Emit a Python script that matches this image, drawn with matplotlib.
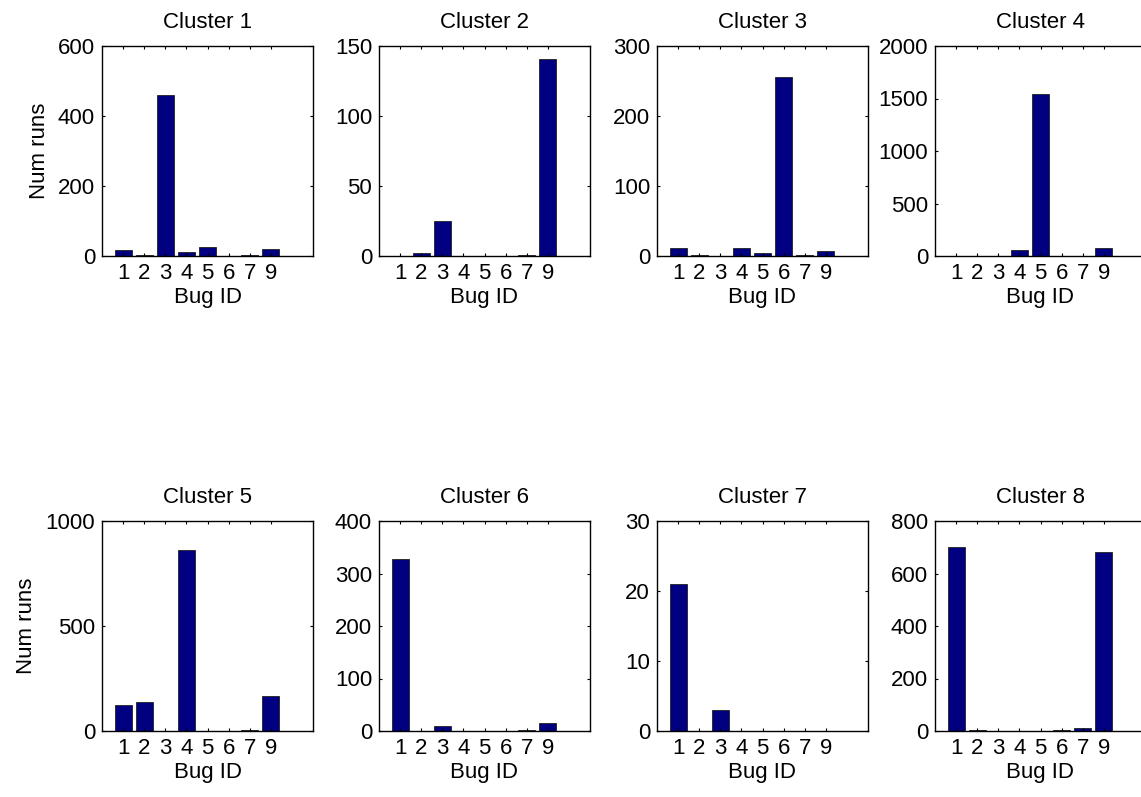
import matplotlib
matplotlib.use("Agg")
import matplotlib.pyplot as plt

plt.rcParams["font.family"] = ["Liberation Sans", "DejaVu Sans"]

bug_labels = ["1", "2", "3", "4", "5", "6", "7", "9"]
positions = [1, 2, 3, 4, 5, 6, 7, 8]

cluster_1 = [16, 3, 459, 12, 26, 1, 2, 21]
cluster_2 = [0, 2, 25, 0, 0, 0, 1, 141]
cluster_3 = [11, 1, 0, 11, 4, 256, 1, 7]
cluster_4 = [1, 0, 0, 60, 1547, 0, 0, 73]
cluster_5 = [122, 140, 1, 862, 1, 1, 5, 165]
cluster_6 = [327, 0, 9, 0, 0, 0, 1, 15]
cluster_7 = [21, 0, 3, 0, 0, 0, 0, 0]
cluster_8 = [702, 3, 1, 1, 1, 4, 13, 683]

clusters = [cluster_1, cluster_2, cluster_3, cluster_4,
            cluster_5, cluster_6, cluster_7, cluster_8]
y_limits = [600, 150, 300, 2000, 1000, 400, 30, 800]
y_steps = [200, 50, 100, 500, 500, 100, 10, 200]

W, H = 1141, 797
fig = plt.figure(figsize=(W / 100, H / 100), dpi=100)

col_lefts = [102, 379, 657, 935]
row_bottoms = [256, 731]  # pixel y of axes bottom, from top
box_w, box_h = 211, 210

for i, counts in enumerate(clusters):
    row, col = divmod(i, 4)
    ax = fig.add_axes([col_lefts[col] / W, (H - row_bottoms[row]) / H,
                       box_w / W, box_h / H])
    ax.bar(positions, counts, width=0.8, color="#000080",
           edgecolor="#202020", linewidth=0.6)
    ax.set_xlim(0, 10)
    ax.set_ylim(0, y_limits[i])
    ax.set_yticks(range(0, y_limits[i] + 1, y_steps[i]))
    ax.set_xticks(positions)
    ax.set_xticklabels(bug_labels)
    ax.tick_params(direction="in", length=2.5, width=0.8, labelsize=16,
                   top=True, right=True, pad=5)
    for s in ax.spines.values():
        s.set_linewidth(1.0)
    ax.set_title(f"Cluster {i + 1}", fontsize=16, pad=13)
    ax.set_xlabel("Bug ID", fontsize=16, labelpad=2)
    if col == 0:
        ax.set_ylabel("Num runs", fontsize=16, labelpad=6)

fig.savefig("out.png", dpi=100)
